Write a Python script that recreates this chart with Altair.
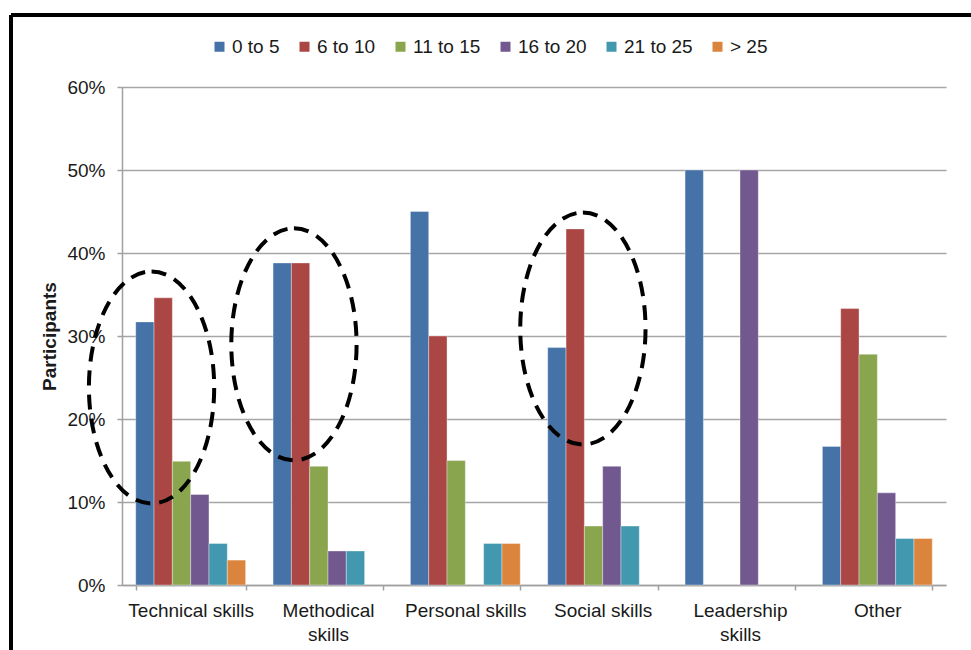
import altair as alt
import pandas as pd

# Skill areas on the x axis and experience brackets (years) as series
categories = ["Technical skills", "Methodical skills", "Personal skills",
              "Social skills", "Leadership skills", "Other"]
series = ["0 to 5", "6 to 10", "11 to 15", "16 to 20", "21 to 25", "> 25"]
colors = ["#4572A7", "#AA4643", "#89A54E", "#71588F", "#4198AF", "#DB843D"]

# Share of participants (%) per skill area, one list per bracket; None = no bar
s_0_5 = [31.7, 38.8, 45.0, 28.6, 50.0, 16.7]
s_6_10 = [34.6, 38.8, 30.0, 42.9, None, 33.3]
s_11_15 = [14.9, 14.3, 15.0, 7.1, None, 27.8]
s_16_20 = [10.9, 4.1, None, 14.3, 50.0, 11.1]
s_21_25 = [5.0, 4.1, 5.0, 7.1, None, 5.6]
s_gt_25 = [3.0, None, 5.0, None, None, 5.6]
values = [s_0_5, s_6_10, s_11_15, s_16_20, s_21_25, s_gt_25]

# Highlighted groups: skill area, vertical centre (%), horizontal spot in the group
ring_cats = ["Technical skills", "Methodical skills", "Social skills"]
ring_centre = [23.8, 29.0, 30.9]
ring_band_pos = [0.144, 0.19, 0.32]

rows = []
for name, vals in zip(series, values):
    for cat, v in zip(categories, vals):
        if v is not None:
            rows.append({"cat": cat, "series": name, "share": v / 100})
bars_df = pd.DataFrame(rows)

FONT = "Liberation Sans"
W, H = 824, 498

x_scale = alt.Scale(domain=categories, paddingInner=0.2, paddingOuter=0.1)
y_scale = alt.Scale(domain=[0, 0.6], nice=False)

label_expr = ("datum.value == 'Methodical skills' ? ['Methodical', 'skills'] : "
              "datum.value == 'Leadership skills' ? ['Leadership', 'skills'] : datum.value")

bars = alt.Chart(bars_df).mark_bar(
    stroke="white", strokeOpacity=0.35, strokeWidth=1
).encode(
    x=alt.X("cat:N", sort=categories, scale=x_scale,
            axis=alt.Axis(title=None, tickBand="extent", labelAngle=0,
                          labelExpr=label_expr, labelLineHeight=24,
                          labelPadding=11, tickSize=5, labelOverlap=False,
                          labelFontSize=19, grid=False)),
    xOffset=alt.XOffset("series:N", sort=series,
                        scale=alt.Scale(domain=series, paddingInner=0, paddingOuter=0)),
    y=alt.Y("share:Q", scale=y_scale,
            axis=alt.Axis(title="Participants", format=".0%",
                          values=[0, 0.1, 0.2, 0.3, 0.4, 0.5, 0.6],
                          tickSize=5, labelPadding=12, labelFontSize=19,
                          titleFontSize=19, titleFontWeight="bold",
                          titleX=-73, titleY=H / 2, titleAngle=-90,
                          titleAlign="center", titleBaseline="middle")),
    color=alt.Color("series:N", sort=series,
                    scale=alt.Scale(domain=series, range=colors),
                    legend=alt.Legend(title=None, orient="none", direction="horizontal",
                                      columns=6, legendX=88, legendY=-50)),
)

# Dashed ellipse outline, unit square path from -1..1 (rx/ry = 0.54)
ellipse_path = ("M 0 -1 C 0.298 -1 0.54 -0.552 0.54 0 "
                "C 0.54 0.552 0.298 1 0 1 "
                "C -0.298 1 -0.54 0.552 -0.54 0 "
                "C -0.54 -0.552 -0.298 -1 0 -1 Z")

rings = []
for cat, centre, bp in zip(ring_cats, ring_centre, ring_band_pos):
    ring_df = pd.DataFrame({"cat": [cat], "centre": [centre / 100]})
    rings.append(
        alt.Chart(ring_df).mark_point(
            shape=ellipse_path, size=53824, filled=False, color="black",
            strokeWidth=4, strokeDash=[15, 9], opacity=1
        ).encode(
            x=alt.X("cat:N", sort=categories, scale=x_scale, bandPosition=bp),
            y=alt.Y("centre:Q", scale=y_scale, title="Participants"),
        )
    )

# Outer frame (top and left edges)
frame_top = alt.Chart(bars_df).mark_rule(color="black", strokeWidth=2.5).encode(
    x=alt.value(-111), x2=alt.value(W + 30), y=alt.value(-72)
)
frame_left = alt.Chart(bars_df).mark_rule(color="black", strokeWidth=2.5).encode(
    x=alt.value(-111), y=alt.value(-72), y2=alt.value(H + 70)
)

chart = alt.layer(bars, *rings, frame_top, frame_left).properties(
    width=W, height=H,
    autosize=alt.AutoSizeParams(type="none"),
    padding={"left": 122, "top": 87, "right": 25, "bottom": 65},
).configure(
    font=FONT,
).configure_view(
    stroke="transparent",
).configure_axis(
    labelFont=FONT, titleFont=FONT, labelColor="#1a1a1a", titleColor="#1a1a1a",
    domainColor="#a0a0a0", domainWidth=1.5, tickColor="#a0a0a0", tickWidth=1.5,
    gridColor="#a6a6a6", gridWidth=1.5, gridOpacity=1,
).configure_legend(
    labelFont=FONT, labelFontSize=19, labelColor="#1a1a1a",
    symbolType="square", symbolSize=100, symbolStrokeWidth=0,
    labelOffset=3, columnPadding=15, padding=0,
)

chart.save("out.html", embed_options={"renderer": "svg", "actions": False})
